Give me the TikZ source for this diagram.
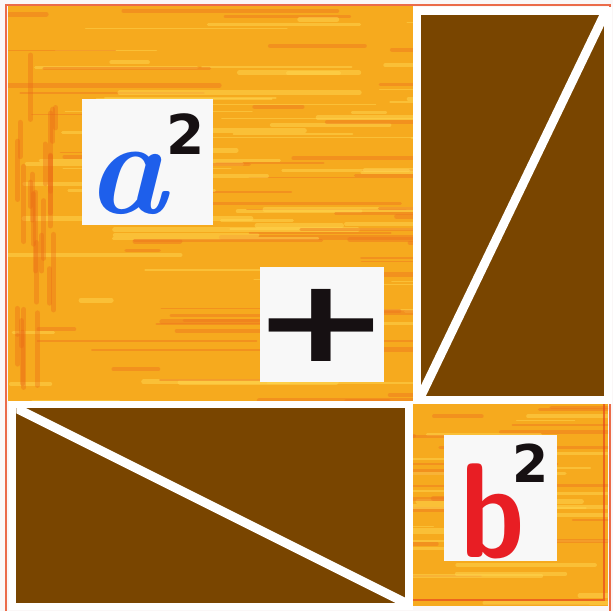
\documentclass[tikz,border=0pt]{standalone}
\usepackage{fontspec}
\newfontfamily\djsans{DejaVu Sans}
\definecolor{brownfill}{RGB}{121,69,0}
\definecolor{orbase}{RGB}{246,170,30}
\definecolor{orlight}{RGB}{255,214,80}
\definecolor{ordark}{RGB}{236,104,22}
\definecolor{edgered}{RGB}{232,72,30}
\definecolor{paper}{RGB}{250,247,247}
\definecolor{cardwhite}{RGB}{248,248,248}
\definecolor{inkblue}{RGB}{30,95,235}
\definecolor{inkred}{RGB}{232,30,36}
\definecolor{inkblack}{RGB}{22,16,18}
\tikzset{
  card/.style={fill=cardwhite,draw=none,inner sep=0pt},
  panel/.style={fill=brownfill,draw=white,line width=7.5pt},
  cut/.style={white,line width=9pt},
  glyph/.style={inner sep=0pt,outer sep=0pt},
  streak/.style={line cap=round,opacity=0.5}
}
\begin{document}
\begin{tikzpicture}[x=1pt,y=-1pt]
\useasboundingbox (0,0) rectangle (613,611);
\fill[paper] (0,0) rectangle (613,611);
% orange painted squares
\fill[orbase] (8,6) rectangle (413,401);
\fill[orbase] (412,404) rectangle (608,606);
\begin{scope}
  \clip (8,6) rectangle (413,401) (412,404) rectangle (608,606);
  \pgfmathsetseed{42}
  \foreach \i in {1,...,260}{
    \pgfmathsetmacro{\yy}{6+rnd*600}
    \pgfmathsetmacro{\xx}{rnd*580}
    \pgfmathsetmacro{\ll}{30+rnd*220}
    \pgfmathsetmacro{\ww}{1+rnd*4}
    \pgfmathsetmacro{\cc}{rnd>0.45 ? 100 : 15}
    \draw[streak,line width=\ww pt,color=orlight!\cc!ordark] (\xx,\yy) -- ++(\ll,0);
  }
  \foreach \i in {1,...,25}{
    \pgfmathsetmacro{\xx}{16+rnd*40}
    \pgfmathsetmacro{\yy}{20+rnd*330}
    \pgfmathsetmacro{\ll}{20+rnd*60}
    \draw[streak,opacity=0.35,line width=5pt,color=ordark] (\xx,\yy) -- ++(0,\ll);
  }
\end{scope}
% thin red outline of the sheet
\draw[edgered,line width=2pt,opacity=0.8] (6,611) -- (6,5) -- (610,5) -- (610,611);
\draw[edgered,line width=1.5pt,opacity=0.7] (412,600) -- (604,600) -- (604,404);
% right brown panel
\draw[panel] (417,11) rectangle (608,400);
\coordinate (rbl) at (420.75,396.25);
\coordinate (rtr) at (604.25,14.75);
\begin{scope}
  \clip (rbl) rectangle (rtr);
  \draw[cut] (rbl) -- (rtr);
\end{scope}
% bottom brown panel
\draw[panel] (12.5,404.5) rectangle (409,606.5);
\coordinate (btl) at (16.25,408.25);
\coordinate (bbr) at (405.25,602.75);
\begin{scope}
  \clip (btl) rectangle (bbr);
  \draw[cut] (btl) -- (bbr);
\end{scope}
% label cards
\node[card,minimum width=131pt,minimum height=126pt] (acard) at (147.5,162) {};
\node[card,minimum width=124pt,minimum height=115pt] (pcard) at (322,324.5) {};
\node[card,minimum width=113pt,minimum height=126pt] (bcard) at (500.5,498) {};
% texts
\node[glyph,text=inkblue,font=\fontsize{136}{136}\selectfont\bfseries\itshape] (a) at (127,183) {a};
\node[glyph,text=inkblack,font=\djsans\bfseries\fontsize{55}{55}\selectfont] (asq) at (186,134) {2};
\node[glyph,text=inkblack,font=\djsans\bfseries\fontsize{115}{115}\selectfont] (plus) at (321,325) {\scalebox{1.45}[1]{+}};
\node[glyph,text=inkred,font=\sffamily\bfseries\fontsize{135}{135}\selectfont] (b) at (493,511) {\scalebox{0.85}[1]{b}};
\node[glyph,text=inkblack,font=\djsans\bfseries\fontsize{52}{52}\selectfont] (bsq) at (531,463) {2};
\end{tikzpicture}
\end{document}
